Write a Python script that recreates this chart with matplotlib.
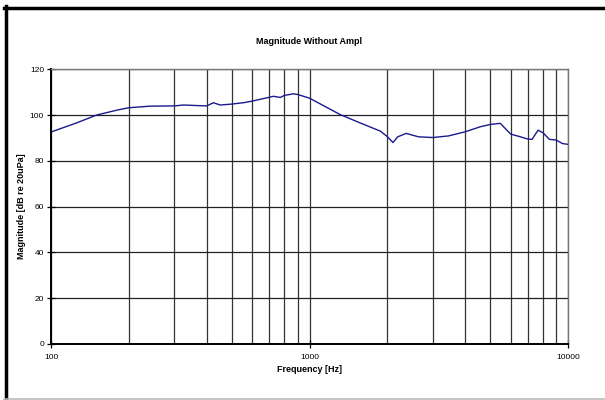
import matplotlib
matplotlib.use('Agg')
import matplotlib.pyplot as plt
from matplotlib.ticker import FixedLocator, NullFormatter, FixedFormatter
from matplotlib.lines import Line2D

## 数据：频率 (Hz) 与幅值 (dB re 20uPa)
freq = [100, 125, 150, 182, 200, 241, 300, 325, 400, 425, 451, 500, 555, 600,
        726, 771, 800, 867, 900, 1000, 1315, 1600, 1879, 2000, 2104, 2193, 2365,
        2642, 3000, 3452, 4000, 4579, 5000, 5470, 6000, 6550, 7000, 7260,
        7660, 8000, 8470, 9000, 9500, 10000]
mag = [92.6, 96.5, 100.0, 102.3, 103.2, 103.9, 104.0, 104.4, 104.0, 105.4, 104.4,
       104.8, 105.4, 106.1, 108.2, 107.7, 108.6, 109.3, 109.0, 107.4, 100.2, 96.2,
       93.0, 90.6, 88.0, 90.5, 92.0, 90.5, 90.2, 90.9, 92.7, 94.9, 95.9,
       96.4, 91.7, 90.5, 89.5, 89.4, 93.4, 92.3, 89.4, 89.1, 87.6, 87.2]
y_ticks = [0, 20, 40, 60, 80, 100, 120]
x_major = [100, 1000, 10000]
x_minor = [m * d for d in (100, 1000) for m in range(2, 10)]

plt.rcParams['font.family'] = ['Liberation Sans', 'DejaVu Sans']

fig = plt.figure(figsize=(6.05, 4.0), dpi=100)
ax = fig.add_axes([51 / 605, 1 - 344 / 400, 517 / 605, 274.7 / 400])

ax.plot(freq, mag, color='#1a1a8c', linewidth=1.0)
ax.set_xscale('log')
ax.set_xlim(100, 10000)
ax.set_ylim(0, 120)

ax.xaxis.set_major_locator(FixedLocator(x_major))
ax.xaxis.set_major_formatter(FixedFormatter([str(v) for v in x_major]))
ax.xaxis.set_minor_locator(FixedLocator(x_minor))
ax.xaxis.set_minor_formatter(NullFormatter())
ax.set_yticks(y_ticks)

##网格线
ax.grid(True, which='both', axis='x', color='#333333', linewidth=0.9)
ax.grid(True, which='major', axis='y', color='#222222', linewidth=0.9)

ax.tick_params(axis='both', which='major', direction='inout', length=6,
               width=0.9, labelsize=6, pad=2)
ax.tick_params(axis='x', which='minor', length=0)
ax.tick_params(axis='x', which='major', pad=4)

for s in ('left', 'bottom'):
    ax.spines[s].set_linewidth(1.4)
    ax.spines[s].set_color('black')
for s in ('top', 'right'):
    ax.spines[s].set_linewidth(1.0)
    ax.spines[s].set_color('#777777')

ax.set_xlabel('Frequency [Hz]', fontsize=6.5, fontweight='bold', labelpad=3)
ax.set_ylabel('Magnitude [dB re 20uPa]', fontsize=6.5, fontweight='bold', labelpad=3)
fig.text(0.5 * (51 + 568) / 605, 1 - 41 / 400, 'Magnitude Without Ampl',
         ha='center', va='center', fontsize=6.5, fontweight='bold')

##外框
W, H = 605.0, 400.0
fig.add_artist(Line2D([5.5 / W, 5.5 / W], [0, 1 - 6 / H], color='black',
                      linewidth=2.5, transform=fig.transFigure))
fig.add_artist(Line2D([4 / W, 1], [1 - 7.5 / H, 1 - 7.5 / H], color='black',
                      linewidth=2.5, transform=fig.transFigure))
fig.add_artist(Line2D([4 / W, 1], [1 - 398.5 / H, 1 - 398.5 / H], color='#bbbbbb',
                      linewidth=1.2, transform=fig.transFigure))

fig.savefig('out.png', dpi=100)
